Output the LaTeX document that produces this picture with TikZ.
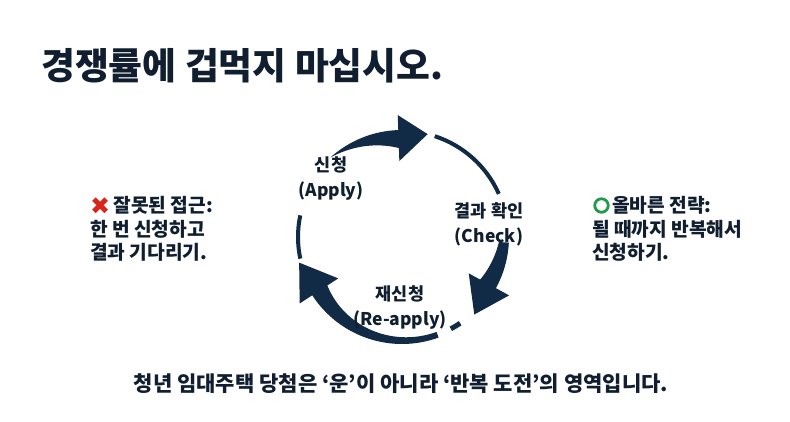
\documentclass[tikz,border=0pt]{standalone}
\usepackage{fontspec}
\setmainfont{Noto Sans CJK KR}[BoldFont={Noto Sans CJK KR Bold}]
\newfontfamily\heavyfont{Noto Sans CJK KR Black}
\newfontfamily\symfont{DejaVu Sans}
\usetikzlibrary{positioning}

\definecolor{navy}{HTML}{112A45}
\definecolor{inkc}{HTML}{101E30}
\definecolor{wrongred}{HTML}{D8261C}
\definecolor{rightgreen}{HTML}{1F9B4A}

% tapered arc with head: start angle, base angle, tip angle, start width, taper power
\newcommand\cyclearc[5]{%
  \fill[navy] (#1:107) arc[start angle=#1, end angle=#2, radius=107]
    -- (#2:122) -- (#3:106) -- (#2:76) -- (#2:89)
    -- plot[domain=#2:#1, samples=40] (\x:{107-(#4)-(18-(#4))*(((#1)-\x)/((#1)-(#2)))^(#5)}) -- cycle;}

\tikzset{
  title/.style={font=\fontsize{36.8}{40}\selectfont\heavyfont, text=inkc, inner sep=0pt},
  note/.style={font=\fontsize{19.2}{23.5}\selectfont\heavyfont, text=inkc, align=left, inner sep=0pt},
  stage/.style={font=\fontsize{17.5}{25}\selectfont\heavyfont, text=inkc, align=center, inner sep=0pt},
  footer/.style={font=\fontsize{21}{24}\selectfont\heavyfont, text=inkc, inner sep=0pt},
  okring/.style={circle, draw=rightgreen, line width=2.8pt, minimum size=13.5pt, inner sep=0pt},
  thinarc/.style={draw=navy, line width=4pt}
}

\begin{document}
\begin{tikzpicture}[x=1pt, y=1pt]
  \useasboundingbox[fill=white] (0,0) rectangle (790,422);

  \node[title, anchor=west] (head) at (41,356) {경쟁률에 겁먹지 마십시오.};

  % cycle
  \begin{scope}[shift={(402,185)}]
    \cyclearc{132}{92}{76}{0}{1}
    \cyclearc{-3}{-28.6}{-47}{10}{1}
    \cyclearc{-70}{-147}{-166}{6}{2}
    \draw[thinarc] (192:104) arc[start angle=192, end angle=168, radius=104];
    \draw[thinarc] (72:106) arc[start angle=72, end angle=24, radius=106];
    \draw[thinarc, line width=5pt] (-56:104) arc[start angle=-56, end angle=-62, radius=104];
  \end{scope}

  \node[stage] (apply) at (331,243) {신청\\(Apply)};
  \node[stage] (check) at (489,198) {결과 확인\\(Check)};
  \node[stage] (reapply) at (400,114) {재신청\\(Re-apply)};

  \node[note, anchor=west] (wrongnote) at (90,193)
    {{\symfont\fontsize{24}{24}\selectfont\raisebox{-1.5pt}{\color{wrongred}✖}}\,잘못된 접근:\\한 번 신청하고\\결과 기다리기.};
  \node[note, anchor=west] (rightnote) at (592,193)
    {\hspace*{20pt}올바른 전략:\\될 때까지 반복해서\\신청하기.};
  \node[okring] (okicon) at (601.5,216.5) {};

  \node[footer] (footer) at (401,38) {청년 임대주택 당첨은 ‘운’이 아니라 ‘반복 도전’의 영역입니다.};
\end{tikzpicture}
\end{document}
